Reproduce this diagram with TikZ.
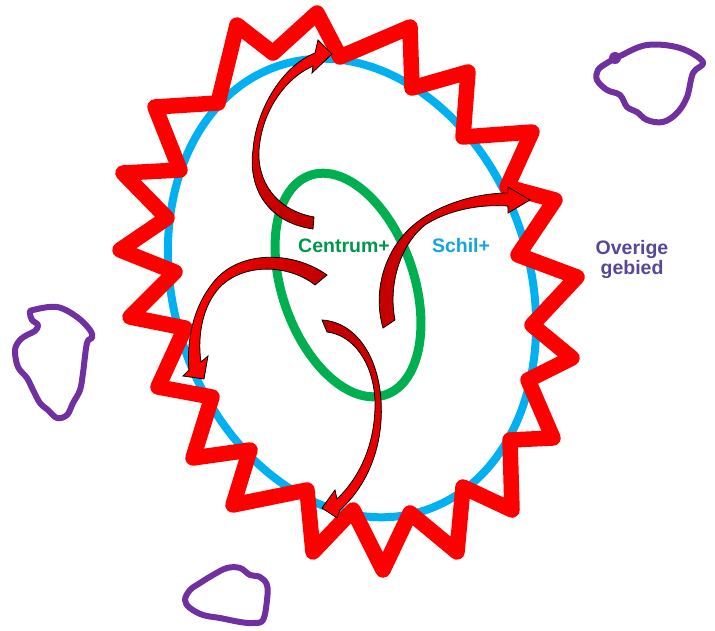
\documentclass[tikz,border=0pt]{standalone}
\usepackage{fontspec}
\setmainfont{Liberation Sans}
\definecolor{zigred}{RGB}{255,0,0}
\definecolor{shellblue}{RGB}{0,176,240}
\definecolor{coregreen}{RGB}{0,176,80}
\definecolor{blobpurple}{RGB}{112,48,160}
\definecolor{arrowdark}{RGB}{192,0,0}
\definecolor{txtgreen}{RGB}{0,150,75}
\definecolor{txtblue}{RGB}{20,165,225}
\definecolor{txtpurple}{RGB}{90,70,150}
\begin{document}
\begin{tikzpicture}[x=1pt,y=-1pt,
  zig/.style={draw=zigred, line width=15.5pt, line join=round, line cap=round},
  shell/.style={draw=shellblue, line width=8pt},
  core/.style={draw=coregreen, line width=9pt},
  blob/.style={draw=blobpurple, line width=6pt, line join=round},
  bigarrow/.style={draw=black, line width=0.8pt, line join=miter},
  lbl/.style={font=\fontsize{19.5}{20}\selectfont\bfseries, inner sep=0pt, align=center}]
\useasboundingbox (0,0) rectangle (715,631);

% blue shell and green core
\draw[shell, rotate around={18:(352,288)}] (352,288) ellipse [x radius=178, y radius=234];
\draw[core, rotate around={19:(348,285)}] (348,285) ellipse [x radius=66, y radius=116];

% red zigzag ring
\draw[zig] (218,103) -- (155,107) -- (180,170) -- (123,173) -- (167,218) -- (120,250)
  -- (175,272) -- (130,317) -- (185,328) -- (158,387) -- (212,397) -- (193,458)
  -- (250,450) -- (233,505) -- (307,490) -- (313,552) -- (353,510) -- (383,570)
  -- (410,513) -- (457,552) -- (463,487) -- (512,510) -- (510,440) -- (553,438)
  -- (528,380) -- (572,358) -- (532,325) -- (577,277) -- (518,255) -- (555,200)
  -- (507,187) -- (532,132) -- (463,137) -- (468,72) -- (412,88) -- (410,27)
  -- (340,57) -- (317,13) -- (273,53) -- (237,25) -- cycle;

% purple blobs
\draw[blob] plot[smooth cycle, tension=0.6] coordinates {(620,56) (647,45) (680,48) (703,62) (693,73) (687,97) (677,113) (663,122) (647,120) (637,112) (627,107) (620,95) (607,90) (597,80) (598,70) (607,63)};
\fill[blobpurple] (615,58) circle (6);
\draw[blob] plot[smooth cycle, tension=0.6] coordinates {(33,310) (57,307) (77,317) (90,330) (92,338) (87,343) (83,373) (80,390) (73,403) (67,415) (57,418) (48,410) (40,403) (33,390) (27,378) (18,367) (15,350) (20,340) (27,335) (35,331) (38,325) (32,320) (30,313)};
\draw[blob] plot[smooth cycle, tension=0.6] coordinates {(190,590) (200,583) (213,575) (227,568) (240,568) (250,575) (260,577) (267,585) (267,600) (263,620) (253,623) (240,622) (220,618) (203,615) (190,608) (185,600)};

% curved arrows
\path[bigarrow, top color=zigred, bottom color=arrowdark]
  (313,229) .. controls (265,222) and (248,185) .. (253,150)
  .. controls (256,110) and (282,66) .. (315,53) -- (318,40) -- (332,54) -- (312,73) -- (313,66)
  .. controls (286,78) and (262,110) .. (259,150)
  .. controls (257,180) and (275,210) .. (314,217) -- cycle;
\path[bigarrow, left color=arrowdark, right color=zigred]
  (383,328) .. controls (372,290) and (385,245) .. (420,220)
  .. controls (445,202) and (480,193) .. (508,193) -- (508,187) -- (530,200) -- (508,213) -- (508,206)
  .. controls (480,204) and (448,210) .. (425,225)
  .. controls (400,245) and (388,285) .. (395,320) -- cycle;
\path[bigarrow, left color=zigred, right color=arrowdark]
  (327,275) .. controls (295,252) and (245,250) .. (218,277)
  .. controls (196,300) and (186,335) .. (189,370) -- (183,376) -- (204,379) -- (208,356) -- (201,362)
  .. controls (197,335) and (203,305) .. (220,287)
  .. controls (245,262) and (290,265) .. (315,285) -- cycle;
\path[bigarrow, top color=arrowdark, bottom color=zigred]
  (322,320) .. controls (355,322) and (378,355) .. (381,400)
  .. controls (384,445) and (368,485) .. (340,510) -- (337,518) -- (322,508) -- (335,490) -- (337,499)
  .. controls (362,475) and (376,440) .. (375,400)
  .. controls (373,362) and (353,335) .. (327,332) -- cycle;

% labels
\node[lbl, text=txtgreen, anchor=base] (centrum) at (344,253) {Centrum+};
\node[lbl, text=txtblue, anchor=base] (schil) at (461,253) {Schil+};
\node[lbl, text=txtpurple, anchor=center] (overig) at (632,260) {Overige\\gebied};
\end{tikzpicture}
\end{document}
